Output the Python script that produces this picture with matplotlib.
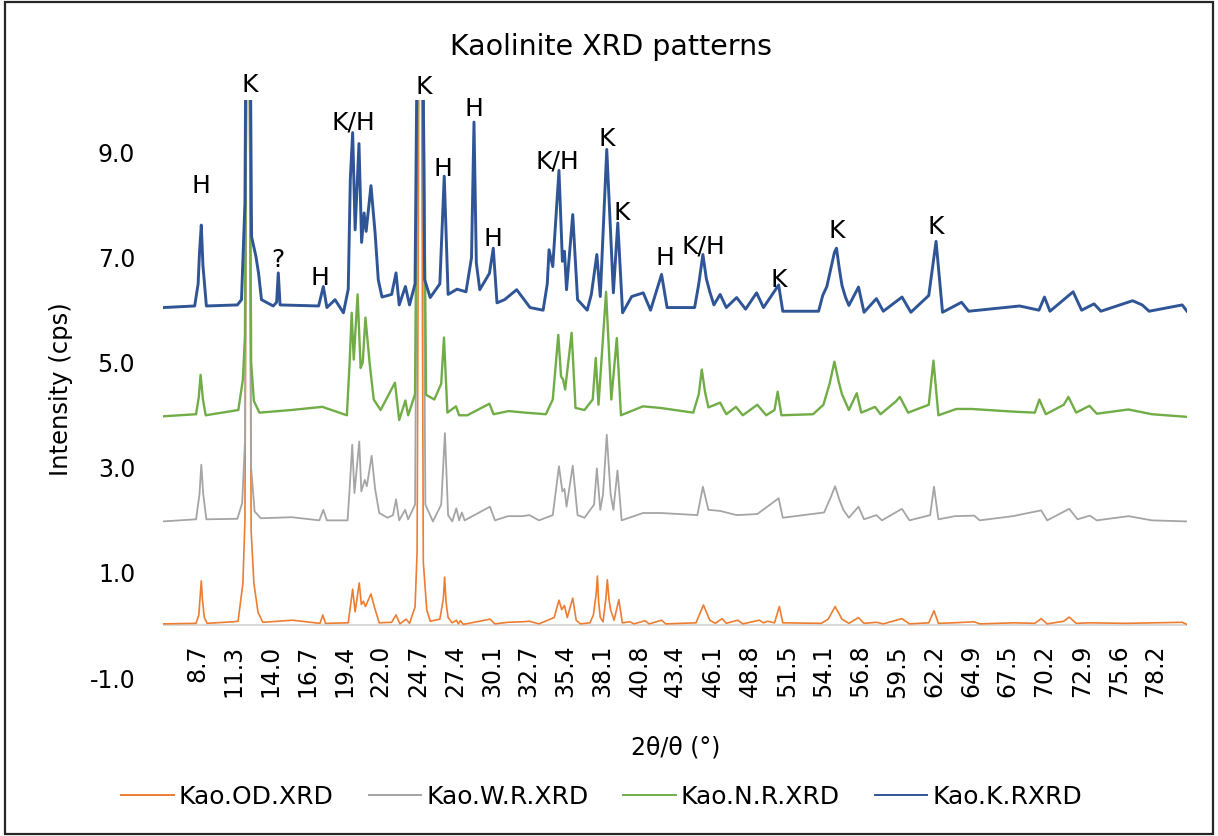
import matplotlib
matplotlib.use("Agg")
import matplotlib.pyplot as plt
from matplotlib.patches import Rectangle

# 2theta / intensity readings for each sample (offset patterns, cps)
od_2theta = [6.2, 8.6, 8.8, 8.9, 8.98, 9.06, 9.2, 9.4, 11.3, 11.65, 12.0, 12.15, 12.37, 12.6, 12.8,
             13.1, 13.45, 15.6, 17.6, 17.8, 18.0, 19.65, 19.97, 20.15, 20.45, 20.6, 20.75, 20.9,
             21.05, 21.3, 21.55, 21.9, 22.8, 23.12, 23.4, 23.85, 24.1, 24.5, 24.65, 24.88, 25.1,
             25.35, 25.6, 26.3, 26.55, 26.65, 26.75, 26.9, 27.2, 27.5, 27.65, 27.8, 28.0, 29.94,
             30.3, 31.25, 32.3, 32.8, 33.5, 34.6, 34.95, 35.15, 35.35, 35.55, 35.95, 36.2, 36.5,
             37.2, 37.45, 37.65, 37.74, 37.83, 37.95, 38.15, 38.35, 38.46, 38.58, 38.7, 38.95,
             39.3, 39.55, 40.1, 40.4, 41.2, 41.5, 42.4, 42.7, 44.9, 45.44, 45.9, 46.3, 46.8,
             47.1, 47.93, 48.3, 49.5, 49.8, 50.1, 50.6, 50.95, 51.2, 54.0, 54.5, 55.0, 55.5,
             56.0, 56.7, 57.1, 58.0, 58.5, 59.85, 60.4, 61.8, 62.18, 62.5, 63.6, 65.1, 65.5,
             68.0, 69.5, 69.96, 70.4, 71.6, 72.0, 72.5, 73.5, 76.1, 80.2, 80.55]
od_cps = [0.03, 0.04, 0.2, 0.55, 0.85, 0.5, 0.15, 0.04, 0.07, 0.08, 0.8, 2.0, 18.0, 1.8, 0.8,
          0.25, 0.06, 0.1, 0.04, 0.2, 0.04, 0.05, 0.69, 0.26, 0.81, 0.4, 0.46, 0.36,
          0.45, 0.6, 0.35, 0.05, 0.06, 0.2, 0.03, 0.12, 0.04, 0.35, 1.4, 18.0, 1.2,
          0.3, 0.08, 0.12, 0.5, 0.92, 0.45, 0.15, 0.05, 0.1, 0.03, 0.09, 0.02, 0.12,
          0.03, 0.06, 0.07, 0.08, 0.03, 0.15, 0.48, 0.3, 0.38, 0.15, 0.52, 0.1, 0.03,
          0.05, 0.2, 0.6, 0.94, 0.45, 0.15, 0.07, 0.5, 0.87, 0.5, 0.3, 0.1,
          0.49, 0.05, 0.07, 0.03, 0.09, 0.03, 0.1, 0.03, 0.05, 0.39, 0.1, 0.04, 0.13,
          0.04, 0.1, 0.03, 0.1, 0.05, 0.08, 0.05, 0.36, 0.05, 0.04, 0.12, 0.36, 0.12,
          0.04, 0.15, 0.04, 0.06, 0.03, 0.13, 0.03, 0.05, 0.28, 0.04, 0.05, 0.07, 0.03,
          0.05, 0.04, 0.13, 0.03, 0.08, 0.16, 0.04, 0.05, 0.04, 0.06, 0.02]

wr_2theta = [6.2, 8.6, 8.85, 8.98, 9.12, 9.35, 11.6, 11.95, 12.15, 12.37, 12.6, 12.85, 13.3,
             15.55, 17.55, 17.84, 18.1, 19.6, 19.75, 19.94, 20.1, 20.45, 20.6, 20.85, 21.0,
             21.35, 21.6, 21.9, 22.5, 22.9, 23.12, 23.35, 23.78, 24.0, 24.5, 24.88, 25.25,
             25.8, 26.4, 26.67, 26.9, 27.2, 27.5, 27.7, 27.9, 28.1, 29.94, 30.3, 31.25, 32.3,
             32.8, 33.5, 34.5, 34.95, 35.2, 35.35, 35.5, 35.95, 36.3, 36.8, 37.5, 37.7, 37.95,
             38.15, 38.42, 38.7, 38.9, 39.2, 39.5, 41.05, 42.35, 45.0, 45.4, 45.8, 46.65,
             47.85, 49.35, 50.9, 51.2, 54.2, 54.7, 55.0, 55.3, 55.6, 56.0, 56.7, 57.1, 58.0,
             58.4, 59.85, 60.4, 61.9, 62.18, 62.5, 63.7, 65.1, 65.5, 67.9, 69.96, 70.4, 72.0,
             72.6, 73.5, 74.0, 76.3, 78.0, 80.55]
wr_cps = [1.98, 2.02, 2.5, 3.06, 2.5, 2.02, 2.03, 2.33, 3.5, 18.0, 3.0, 2.17, 2.04,
          2.06, 2.0, 2.2, 2.0, 2.0, 2.6, 3.44, 2.52, 3.5, 2.55, 2.77, 2.65,
          3.23, 2.6, 2.14, 2.05, 2.1, 2.4, 2.0, 2.2, 2.02, 2.3, 18.0, 2.3,
          1.98, 2.3, 3.66, 2.1, 1.98, 2.23, 2.0, 2.15, 2.0, 2.26, 2.0, 2.08, 2.08,
          2.1, 2.0, 2.1, 3.03, 2.55, 2.6, 2.26, 3.04, 2.1, 2.05, 2.3, 2.99, 2.2,
          2.5, 3.63, 2.5, 2.2, 2.95, 2.0, 2.14, 2.14, 2.1, 2.64, 2.2, 2.18,
          2.1, 2.12, 2.42, 2.05, 2.15, 2.45, 2.65, 2.4, 2.2, 2.05, 2.26, 2.02, 2.1,
          2.0, 2.22, 2.0, 2.1, 2.64, 2.02, 2.08, 2.09, 2.0, 2.08, 2.19, 2.0, 2.22,
          2.02, 2.09, 2.0, 2.08, 2.0, 1.98]

nr_2theta = [6.2, 8.6, 8.8, 8.93, 9.1, 9.3, 11.67, 12.0, 12.15, 12.37, 12.6, 12.8, 13.2,
             15.5, 17.77, 19.55, 19.75, 19.9, 20.05, 20.33, 20.55, 20.7, 20.9, 21.2, 21.5,
             22.0, 23.04, 23.35, 23.8, 24.0, 24.5, 24.88, 25.3, 25.9, 26.4, 26.6, 26.85,
             27.47, 27.7, 28.3, 29.9, 30.2, 31.3, 32.5, 34.0, 34.5, 34.9, 35.1, 35.25, 35.4,
             35.87, 36.15, 36.8, 37.4, 37.62, 37.82, 38.37, 38.75, 39.15, 39.45, 41.05, 42.3,
             44.7, 45.1, 45.32, 45.55, 45.8, 46.65, 47.1, 47.8, 48.3, 49.35, 50.0, 50.6, 50.83,
             51.1, 53.4, 54.15, 54.6, 54.95, 55.25, 55.5, 56.0, 56.57, 56.9, 57.9, 58.3, 59.4,
             59.7, 60.3, 61.8, 62.14, 62.5, 63.8, 64.92, 67.9, 69.5, 69.83, 70.3, 71.6, 71.94,
             72.5, 73.47, 74.0, 76.3, 78.0, 80.55]
nr_cps = [3.98, 4.02, 4.35, 4.77, 4.3, 4.0, 4.1, 4.68, 5.5, 18.0, 5.0, 4.27, 4.05,
          4.1, 4.16, 4.0, 5.0, 5.95, 5.06, 6.3, 4.9, 5.0, 5.86, 5.0, 4.3,
          4.1, 4.62, 3.91, 4.28, 4.0, 4.4, 18.0, 4.39, 4.3, 4.6, 5.48, 4.05,
          4.17, 4.0, 4.0, 4.22, 4.02, 4.08, 4.05, 4.02, 4.3, 5.53, 4.74, 4.68, 4.49,
          5.57, 4.14, 4.1, 4.3, 5.09, 4.2, 6.35, 4.3, 5.47, 4.0, 4.17, 4.14,
          4.05, 4.4, 4.87, 4.45, 4.15, 4.24, 4.02, 4.16, 4.0, 4.2, 4.0, 4.1, 4.45,
          4.0, 4.02, 4.2, 4.6, 5.02, 4.65, 4.4, 4.1, 4.42, 4.05, 4.16, 4.02, 4.26,
          4.35, 4.05, 4.2, 5.04, 4.0, 4.12, 4.12, 4.07, 4.05, 4.3, 4.02, 4.2, 4.35,
          4.05, 4.18, 4.03, 4.11, 4.02, 3.97]

kr_2theta = [6.2, 8.5, 8.75, 8.85, 8.98, 9.1, 9.35, 11.6, 11.9, 12.15, 12.37, 12.63, 12.95,
             13.14, 13.35, 14.2, 14.45, 14.57, 14.7, 17.5, 17.84, 18.1, 18.69, 19.3, 19.65,
             19.8, 19.97, 20.15, 20.43, 20.62, 20.8, 20.95, 21.3, 21.6, 21.83, 22.1, 22.8,
             23.12, 23.35, 23.8, 24.1, 24.5, 24.88, 25.2, 25.6, 26.3, 26.62, 26.9, 27.55,
             28.2, 28.6, 28.78, 28.95, 29.2, 29.9, 30.18, 30.45, 31.0, 31.88, 32.85, 33.8,
             34.1, 34.23, 34.5, 34.95, 35.2, 35.35, 35.5, 35.95, 36.3, 37.0, 37.3, 37.7,
             37.95, 38.42, 38.9, 39.22, 39.57, 40.23, 41.07, 41.6, 42.4, 42.8, 44.8, 45.1,
             45.4, 45.65, 45.9, 46.2, 46.65, 47.1, 47.85, 48.5, 49.3, 49.8, 50.9, 51.2, 53.8,
             54.1, 54.4, 54.7, 54.95, 55.1, 55.3, 55.5, 55.75, 56.0, 56.7, 57.1, 58.0, 58.5,
             59.86, 60.5, 61.8, 62.33, 62.8, 64.18, 64.7, 68.4, 69.8, 70.2, 70.6, 72.28, 72.9,
             73.8, 74.3, 76.6, 77.3, 77.8, 80.2, 80.55]
kr_cps = [6.05, 6.08, 6.5, 7.1, 7.62, 6.85, 6.08, 6.1, 6.2, 8.04, 18.0, 7.4, 7.02,
          6.7, 6.2, 6.08, 6.15, 6.71, 6.1, 6.08, 6.45, 6.05, 6.2, 5.95, 6.4,
          8.49, 9.38, 7.53, 9.17, 7.29, 7.85, 7.5, 8.37, 7.47, 6.58, 6.25, 6.3,
          6.71, 6.1, 6.45, 6.1, 6.5, 18.0, 6.58, 6.24, 6.5, 8.55, 6.3, 6.4,
          6.35, 7.0, 9.58, 6.9, 6.39, 6.7, 7.18, 6.14, 6.2, 6.39, 6.05, 6.0,
          6.5, 7.15, 6.83, 8.66, 6.93, 7.12, 6.39, 7.82, 6.2, 6.0, 6.3, 7.06,
          6.26, 9.06, 6.33, 7.66, 5.95, 6.26, 6.33, 6.0, 6.68, 6.05, 6.05, 6.5,
          7.06, 6.6, 6.35, 6.1, 6.3, 6.05, 6.24, 6.02, 6.33, 6.05, 6.48, 5.98, 5.98,
          6.28, 6.45, 6.8, 7.1, 7.18, 6.8, 6.47, 6.25, 6.09, 6.44, 5.96, 6.22, 5.98,
          6.25, 5.96, 6.28, 7.31, 5.96, 6.15, 5.98, 6.08, 6.0, 6.25, 5.98, 6.35, 6.0,
          6.12, 5.98, 6.18, 6.1, 5.98, 6.1, 5.98]

series_names = ["Kao.OD.XRD", "Kao.W.R.XRD", "Kao.N.R.XRD", "Kao.K.RXRD"]
series_colors = ["#ED7D31", "#A5A5A5", "#70AD47", "#2F5597"]

x_tick_labels = ["8.7", "11.3", "14.0", "16.7", "19.4", "22.0", "24.7", "27.4", "30.1",
                 "32.7", "35.4", "38.1", "40.8", "43.4", "46.1", "48.8", "51.5", "54.1",
                 "56.8", "59.5", "62.2", "64.9", "67.5", "70.2", "72.9", "75.6", "78.2"]
y_ticks = [-1, 1, 3, 5, 7, 9]

# phase labels: (2theta, intensity, text)
phase_labels = [(8.97, 8.37, "H"), (12.52, 10.28, "K"), (14.55, 6.96, "?"), (17.6, 6.62, "H"),
                (20.0, 9.57, "K/H"), (25.15, 10.24, "K"), (26.5, 8.68, "H"), (28.78, 9.82, "H"),
                (30.15, 7.36, "H"), (34.8, 8.83, "K/H"), (38.45, 9.25, "K"), (39.5, 7.84, "K"),
                (42.65, 7.0, "H"), (45.4, 7.21, "K/H"), (50.93, 6.58, "K"), (55.15, 7.5, "K"),
                (62.3, 7.59, "K")]

data = [(od_2theta, od_cps), (wr_2theta, wr_cps), (nr_2theta, nr_cps), (kr_2theta, kr_cps)]
for xs, ys in data:
    assert len(xs) == len(ys), (len(xs), len(ys))

W, H = 1218, 836
fig = plt.figure(figsize=(W / 100, H / 100), dpi=100)
ax = fig.add_axes([163 / W, 1 - 678 / H, (1187 - 163) / W, (678 - 100) / H])

ax.axhline(0, color="#D9D9D9", lw=1.4, zorder=1)
widths = [1.2, 1.3, 1.7, 2.1]
for (xs, ys), name, col, lw in zip(data, series_names, series_colors, widths):
    ax.plot(xs, ys, color=col, lw=lw, label=name, zorder=2)

ax.set_xlim(6.2, 80.55)
ax.set_ylim(-1, 10)
for s in ax.spines.values():
    s.set_visible(False)

ax.set_xticks([float(t) for t in x_tick_labels], labels=x_tick_labels)
ax.tick_params(axis="x", length=0, pad=-24, labelrotation=90, labelsize=17)
ax.set_yticks(y_ticks, labels=["%.1f" % v for v in y_ticks])
ax.tick_params(axis="y", length=0, pad=20, labelsize=17)

for x, y, s in phase_labels:
    ax.text(x, y, s, ha="center", va="center", fontsize=18, clip_on=False)

ax.set_ylabel("Intensity (cps)", fontsize=17.5, labelpad=12)
fig.text(676 / W, 1 - 748 / H, "2θ/θ (°)", ha="center", va="center", fontsize=17)
fig.text(0.502, 1 - 47 / H, "Kaolinite XRD patterns", ha="center", va="center", fontsize=20.5)

leg = fig.legend(loc="center", bbox_to_anchor=(0.494, 1 - 797 / H), ncol=4, frameon=False,
                 fontsize=18, handlelength=2.1, handletextpad=0.2, columnspacing=1.4)
for line in leg.get_lines():
    line.set_linewidth(1.4)

fig.add_artist(Rectangle((5 / W, 2 / H), 1208 / W, 832 / H, transform=fig.transFigure,
                         fill=False, ec="#262626", lw=1.6))

fig.savefig("out.png", dpi=100)
